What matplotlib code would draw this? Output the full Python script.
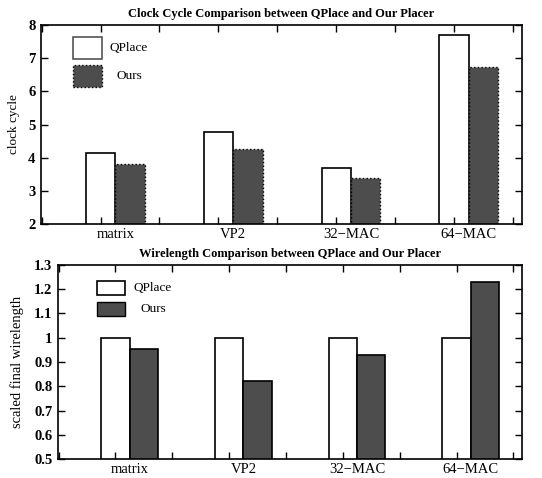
import numpy as np
import matplotlib.pyplot as plt
from matplotlib.patches import Rectangle

plt.rcParams['font.family'] = ['Liberation Serif', 'DejaVu Serif']

# Daten
kategorien = ["matrix", "VP2", "32\u2212MAC", "64\u2212MAC"]
takt_qplace = [4.15, 4.77, 3.68, 7.68]
takt_ours = [3.82, 4.27, 3.40, 6.72]
wl_qplace = [1.0, 1.0, 1.0, 1.0]
wl_ours = [0.952, 0.820, 0.928, 1.228]

dunkel = "#4d4d4d"
breite = 0.25
x = np.arange(len(kategorien))

fig = plt.figure(figsize=(5.42, 4.78), dpi=100)
ax1 = fig.add_axes([0.0756, 0.531, 0.8874, 0.417])
ax2 = fig.add_axes([0.107, 0.0397, 0.856, 0.406])


def achsen_stil(ax):
    ax.set_xlim(-0.63, 3.45)
    ax.set_xticks(np.arange(-0.625, 3.45, 0.5))
    ax.set_xticklabels([])
    ax.set_xticks(x, kategorien, minor=True)
    ax.tick_params(axis="x", which="minor", length=0, labelsize=10.5, pad=3)
    ax.tick_params(axis="both", which="major", direction="in", length=5,
                   top=True, right=True, width=1)
    ax.tick_params(axis="y", labelsize=10.5, pad=4)
    for lab in ax.get_yticklabels():
        lab.set_fontweight("bold")
    for s in ax.spines.values():
        s.set_linewidth(1.2)


def legende(ax, x0, w, y_q, y_o, h, tx_q, tx_o, ours_ls, q_edge):
    ax.add_patch(Rectangle((x0, y_q), w, h, transform=ax.transAxes,
                           facecolor="white", edgecolor=q_edge, lw=1.2, clip_on=False))
    ax.add_patch(Rectangle((x0, y_o), w, h, transform=ax.transAxes,
                           facecolor=dunkel, edgecolor="black", lw=1, ls=ours_ls, clip_on=False))
    ax.text(tx_q, y_q + h / 2, "QPlace", transform=ax.transAxes, va="center", fontsize=9.5)
    ax.text(tx_o, y_o + h / 2, "Ours", transform=ax.transAxes, va="center", fontsize=9.5)


# Oben: Taktzyklen
ax1.bar(x - breite, takt_qplace, breite, align="edge", color="white", edgecolor="black", lw=1.2)
ax1.bar(x, takt_ours, breite, align="edge", color=dunkel, edgecolor="black", lw=1, ls=":")
ax1.set_ylim(2, 8)
ax1.set_yticks(range(2, 9))
achsen_stil(ax1)
ax1.set_ylabel("clock cycle", fontsize=9.5, labelpad=6)
ax1.set_title("Clock Cycle Comparison between QPlace and Our Placer",
              fontsize=9, fontweight="bold", pad=6)
legende(ax1, 0.0665, 0.06, 0.829, 0.688, 0.111, 0.143, 0.156, ":", "#555555")

# Unten: Drahtlaenge
ax2.bar(x - breite, wl_qplace, breite, align="edge", color="white", edgecolor="black", lw=1.2)
ax2.bar(x, wl_ours, breite, align="edge", color=dunkel, edgecolor="black", lw=1.2)
ax2.set_ylim(0.5, 1.3)
ax2.set_yticks(np.arange(0.5, 1.31, 0.1))
ax2.set_yticklabels(["0.5", "0.6", "0.7", "0.8", "0.9", "1", "1.1", "1.2", "1.3"])
achsen_stil(ax2)
ax2.set_ylabel("scaled final wirelength", fontsize=10.5, labelpad=7)
ax2.set_title("Wirelength Comparison between QPlace and Our Placer",
              fontsize=9, fontweight="bold", pad=6)
legende(ax2, 0.084, 0.06, 0.845, 0.737, 0.07, 0.162, 0.177, "-", "black")

fig.savefig("out.png", dpi=100)
